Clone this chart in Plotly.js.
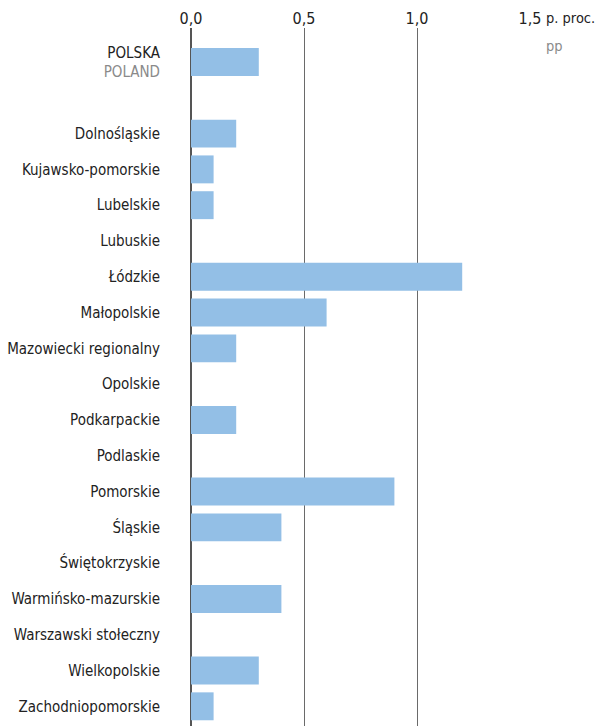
<!DOCTYPE html>
<html><head><meta charset="utf-8">
<script src="https://cdn.plot.ly/plotly-3.0.1.min.js"></script>
<style>body{margin:0;padding:0;background:#fff}#chart{width:598px;height:726px}</style>
</head><body><div id="chart"></div>
<script>
const categories = ["POLSKA", "", "Dolnośląskie", "Kujawsko-pomorskie", "Lubelskie", "Lubuskie", "Łódzkie", "Małopolskie", "Mazowiecki regionalny", "Opolskie", "Podkarpackie", "Podlaskie", "Pomorskie", "Śląskie", "Świętokrzyskie", "Warmińsko-mazurskie", "Warszawski stołeczny", "Wielkopolskie", "Zachodniopomorskie"];
const categoryLabels = ["POLSKA<br><span style='color:#8a8a8a'>POLAND</span>", "", "Dolnośląskie", "Kujawsko-pomorskie", "Lubelskie", "Lubuskie", "Łódzkie", "Małopolskie", "Mazowiecki regionalny", "Opolskie", "Podkarpackie", "Podlaskie", "Pomorskie", "Śląskie", "Świętokrzyskie", "Warmińsko-mazurskie", "Warszawski stołeczny", "Wielkopolskie", "Zachodniopomorskie"];
const values = [0.3, null, 0.2, 0.1, 0.1, 0.0, 1.2, 0.6, 0.2, 0.0, 0.2, 0.0, 0.9, 0.4, 0.0, 0.4, 0.0, 0.3, 0.1];
const xTickVals = [0, 0.5, 1.0, 1.5];
const xTickText = ["0,0", "0,5", "1,0", "1,5"];

const positions = categories.map((c, i) => i);
const FONT = "'Liberation Sans Narrow', 'DejaVu Sans Condensed', 'Arial Narrow', sans-serif";

Plotly.newPlot('chart', [{
  type: 'bar',
  orientation: 'h',
  y: positions,
  x: values,
  width: 0.78,
  marker: {color: '#93bfe6'},
  hoverinfo: 'none'
}], {
  width: 598, height: 726,
  margin: {l: 191, r: 68, t: 28, b: 0},
  paper_bgcolor: '#fff', plot_bgcolor: '#fff',
  showlegend: false,
  font: {family: FONT, size: 15, color: '#222'},
  xaxis: {
    side: 'top', range: [0, 1.5],
    tickvals: xTickVals, ticktext: xTickText,
    showgrid: true, gridcolor: '#6a6a6a', gridwidth: 1,
    zeroline: true, zerolinecolor: '#555', zerolinewidth: 1.5,
    showline: false, ticks: '', fixedrange: true,
    tickfont: {family: FONT, size: 16, color: '#222'}
  },
  yaxis: {
    range: [18.55, -0.95],
    tickvals: positions, ticktext: categoryLabels,
    showgrid: false, zeroline: false, showline: false, ticks: '',
    ticklabelstandoff: 30,
    tickfont: {family: FONT, size: 15, color: '#222'}
  },
  annotations: [
    {xref: 'paper', yref: 'paper', x: 1, y: 1, xshift: 14, yshift: 10, xanchor: 'left', yanchor: 'middle',
     text: 'p. proc.', showarrow: false, font: {family: FONT, size: 14.5, color: '#222'}},
    {xref: 'paper', yref: 'paper', x: 1, y: 1, xshift: 14, yshift: -18, xanchor: 'left', yanchor: 'middle',
     text: 'pp', showarrow: false, font: {family: FONT, size: 14.5, color: '#8a8a8a'}}
  ]
}, {staticPlot: true});
</script></body></html>
